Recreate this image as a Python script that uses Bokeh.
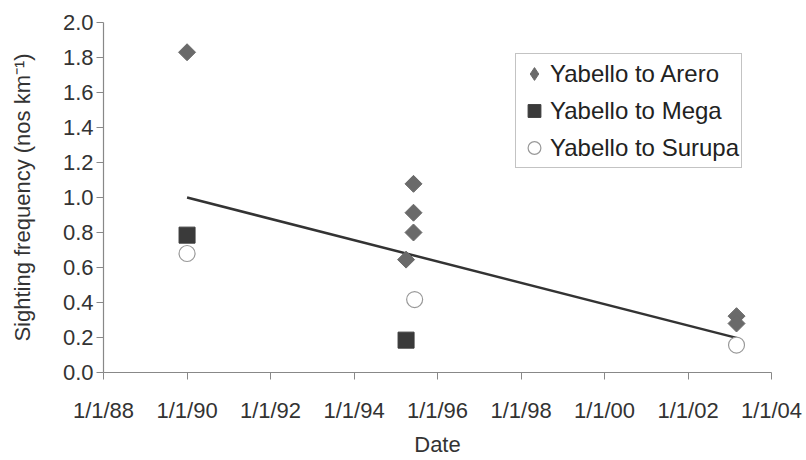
import math
import pandas as pd
from bokeh.plotting import figure
from bokeh.models import (Range1d, FixedTicker, Legend, LegendItem, NumeralTickFormatter,
                          ColumnDataSource, CDSView, IndexFilter)
from bokeh.embed import file_html
from bokeh.resources import INLINE

# Data
arero_dates = ["1990-01-01", "1995-04-01", "1995-06-05", "1995-06-05", "1995-06-05", "2003-03-01", "2003-03-01"]
arero_vals = [1.83, 0.645, 1.078, 0.913, 0.80, 0.322, 0.28]
mega_dates = ["1990-01-01", "1995-04-01"]
mega_vals = [0.785, 0.185]
surupa_dates = ["1990-01-01", "1995-06-15", "2003-03-01"]
surupa_vals = [0.68, 0.417, 0.157]
trend_dates = ["1990-01-01", "2003-03-01"]
trend_vals = [1.0, 0.198]
tick_years = [1988, 1990, 1992, 1994, 1996, 1998, 2000, 2002, 2004]
tick_labels = ["1/1/88", "1/1/90", "1/1/92", "1/1/94", "1/1/96", "1/1/98", "1/1/00", "1/1/02", "1/1/04"]

def ms(d):
    return pd.Timestamp(d).value / 1e6

tick_vals = [ms(f"{y}-01-01") for y in tick_years]

FONT = "Liberation Sans"
TXT = "#333333"
ARERO_C = "#6a6a6a"

p = figure(width=806, height=460, output_backend="svg", toolbar_location=None,
           x_range=Range1d(tick_vals[0], tick_vals[-1]), y_range=Range1d(0, 2.0),
           min_border_left=103, min_border_right=35, min_border_top=22, min_border_bottom=88)
p.outline_line_color = None
p.grid.grid_line_color = None
p.background_fill_color = "white"

p.line([ms(d) for d in trend_dates], trend_vals, line_color="#333333", line_width=2.5)

arero_src = ColumnDataSource(dict(x=[ms(d) for d in arero_dates], y=arero_vals))
# legend swatch for the diamond series (legend glyphs are never rotated);
# drawn small and hidden beneath the first rotated-square marker
r_a_key = p.scatter("x", "y", source=arero_src, view=CDSView(filter=IndexFilter([0])),
                    marker="diamond", size=6, fill_color=ARERO_C, line_color=ARERO_C)
p.scatter("x", "y", source=arero_src, marker="square", angle=math.pi / 4,
          size=12, fill_color=ARERO_C, line_color=ARERO_C)
r_m = p.scatter([ms(d) for d in mega_dates], mega_vals, marker="square", size=16,
                fill_color="#3a3a3a", line_color="#3a3a3a")
r_s = p.scatter([ms(d) for d in surupa_dates], surupa_vals, marker="circle", size=16,
                fill_color="white", line_color="#999999", line_width=1.2)

# Axes
p.xaxis.ticker = FixedTicker(ticks=tick_vals)
p.xaxis.major_label_overrides = {v: l for v, l in zip(tick_vals, tick_labels)}
p.yaxis.ticker = FixedTicker(ticks=[i * 0.2 for i in range(11)])
p.yaxis.formatter = NumeralTickFormatter(format="0.0")
for ax in (p.xaxis, p.yaxis):
    ax.axis_line_color = "#888888"
    ax.axis_line_width = 1.2
    ax.major_tick_line_color = "#888888"
    ax.minor_tick_line_color = None
    ax.major_tick_in = 0
    ax.major_tick_out = 7
    ax.major_label_text_font = FONT
    ax.major_label_text_font_size = "22px"
    ax.major_label_text_color = TXT
    ax.axis_label_text_font = FONT
    ax.axis_label_text_font_size = "22px"
    ax.axis_label_text_font_style = "normal"
    ax.axis_label_text_color = TXT
p.xaxis.axis_label = "Date"
p.yaxis.axis_label = "Sighting frequency (nos km\u207b\u00b9)"
p.xaxis.major_label_standoff = 18
p.xaxis.axis_label_standoff = 6
p.yaxis.major_label_standoff = 3
p.yaxis.axis_label_standoff = 25

legend = Legend(items=[
    LegendItem(label="Yabello to Arero", renderers=[r_a_key]),
    LegendItem(label="Yabello to Mega", renderers=[r_m]),
    LegendItem(label="Yabello to Surupa", renderers=[r_s]),
], location=(412, 204))
legend.label_text_font = FONT
legend.label_text_font_size = "24px"
legend.label_text_color = "#222222"
legend.border_line_color = "#888888"
legend.border_line_width = 1.2
legend.glyph_width = 32
legend.glyph_height = 35
legend.label_height = 30
legend.label_standoff = 0
legend.spacing = 2
legend.padding = 2
legend.margin = 0
p.add_layout(legend)

open("out.html", "w").write(file_html(p, INLINE))
